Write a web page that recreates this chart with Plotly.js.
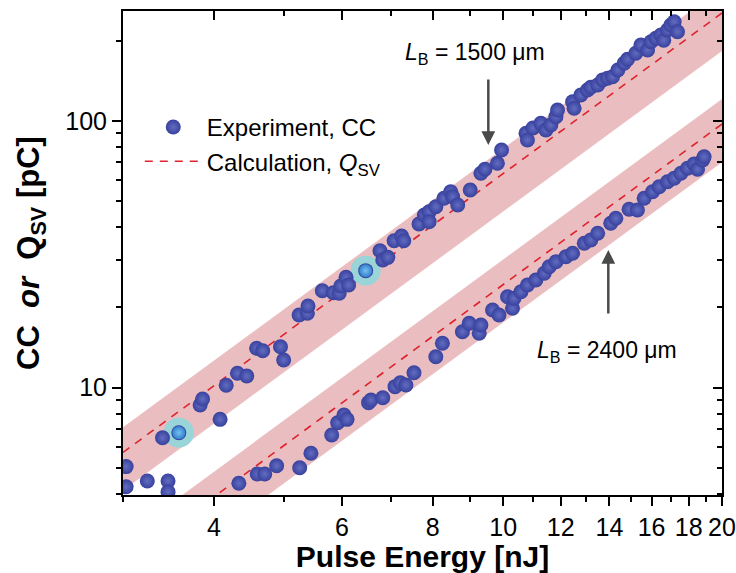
<!DOCTYPE html>
<html>
<head>
<meta charset="utf-8">
<script src="https://cdn.plot.ly/plotly-3.0.1.min.js"></script>
<style>html,body{margin:0;padding:0;background:#fff;}#chart{width:736px;height:573px;}</style>
</head>
<body>
<div id="chart"></div>
<script>
// Experimental points, L_B = 1500 um (upper series)
var upperE = [3.03,3.03,3.24,3.46,3.46,3.40,3.58,3.83,3.86,4.08,4.16,4.31,4.44,4.58,4.67,4.94,4.99,5.24,5.38,5.39,5.64,5.84,5.95,5.98,6.08,6.13,6.47,6.77,6.83,6.94,7.08,7.25,7.30,7.66,7.79,7.91,7.91,8.08,8.29,8.47,8.52,8.66,9.01,9.32,9.44,9.82,9.95,10.75,10.80,10.99,11.27,11.45,11.63,11.82,11.88,12.46,12.52,12.79,13.06,13.20,13.49,13.70,13.92,14.14,14.38,14.67,14.83,15.22,15.47,15.80,15.97,16.22,16.48,16.63,16.83,17.01,17.19,17.37];
var upperQ = [5.06,4.25,4.47,4.47,4.07,6.49,6.78,8.61,9.07,7.61,10.21,11.33,11.06,14.05,13.76,14.24,12.7,18.73,19.01,20.25,23.1,22.71,22.59,24.06,25.94,24.27,27.47,32.64,30.11,30.82,35.58,37.06,35.58,41.1,44.42,45.7,41.93,47.72,51.31,54.32,52.03,48.42,55.13,63.68,65.91,69.4,77.87,89.94,84.87,94.1,98.0,92.5,96.6,103.8,109.9,118.1,111.6,125.2,130.7,133.8,136.5,142.5,144.6,146.6,155.3,164.6,170.3,179.4,192.8,184.6,198.3,204.2,210.1,201,219.4,229,235.7,216.2];
// Experimental points, L_B = 2400 um (lower series)
var lowerE = [4.33,4.59,4.70,4.88,5.25,5.44,5.81,5.92,6.04,6.10,6.53,6.58,6.83,7.10,7.22,7.35,7.54,8.08,8.25,8.79,8.98,9.27,9.32,9.67,9.87,10.14,10.30,10.35,10.58,10.80,11.09,11.39,11.57,11.82,12.20,12.46,12.93,13.20,13.49,14.06,14.29,14.90,15.30,15.63,16.05,16.39,16.83,17.19,17.56,17.93,18.31,18.51,18.81,18.90];
var lowerQ = [4.38,4.75,4.75,5.10,5.01,5.68,6.65,7.39,7.90,7.61,8.79,8.99,9.17,10.09,10.44,10.24,11.38,13.07,14.67,16.22,17.44,16.0,17.18,19.56,18.73,21.94,19.85,21.64,22.91,24.27,25.34,26.85,28.43,29.68,30.99,31.91,34.78,35.8,37.93,41.34,43.17,46.67,46.39,51.31,54.32,56.71,59.2,60.97,63.68,66.48,69.0,65.91,71.43,73.46];
// Highlighted points
var highlightE = [3.58, 6.47];
var highlightQ = [6.78, 27.47];
// Calculation Q_SV (endpoints of straight lines on log-log) and uncertainty bands
var calcE = [3, 20];
var calcUpper = [5.72, 254];
var calcLower = [2.19, 97.4];
var bandUpperHi = [7.1, 315];
var bandUpperLo = [4.12, 183];
var bandLowerHi = [2.72, 121];
var bandLowerLo = [1.58, 70.1];
// Axis ticks
var xMajor = [4,6,8,10,12,14,16,18,20];
var xMinor = [3,5,7,9,11,13,15,17,19];
var yMajor = [10,100];
var yMinor = [4,5,6,7,8,9,20,30,40,50,60,70,80,90,200];

var FONT = 'Liberation Sans, Arial, Helvetica, sans-serif';
var bandColor = 'rgb(234,190,192)';
var dotColor = 'rgb(56,66,158)';
var redColor = 'rgb(222,35,45)';

function bandPoly(lo, hi) {
  return {x: calcE.concat(calcE.slice().reverse()), y: lo.concat(hi.slice().reverse())};
}
var pu = bandPoly(bandUpperLo, bandUpperHi);
var pl = bandPoly(bandLowerLo, bandLowerHi);

var markerStyle = {size: 15, color: dotColor, line: {width: 0},
  gradient: {type: 'radial', color: 'rgb(98,108,192)'}};

var traces = [
  {x: pu.x, y: pu.y, mode: 'lines', fill: 'toself', fillcolor: bandColor, line: {width: 0}, showlegend: false, hoverinfo: 'skip'},
  {x: pl.x, y: pl.y, mode: 'lines', fill: 'toself', fillcolor: bandColor, line: {width: 0}, showlegend: false, hoverinfo: 'skip'},
  {x: calcE, y: calcUpper, mode: 'lines', name: 'Calculation, <i>Q</i><sub>SV</sub>', legendgroup: 'calc', legendrank: 2,
   line: {color: redColor, width: 1.6, dash: '8px,7px'}},
  {x: calcE, y: calcLower, mode: 'lines', showlegend: false, legendgroup: 'calc',
   line: {color: redColor, width: 1.6, dash: '8px,7px'}},
  {x: highlightE, y: highlightQ, mode: 'markers', showlegend: false,
   marker: {size: 30, color: 'rgb(152,212,216)', line: {width: 0}}},
  {x: upperE, y: upperQ, mode: 'markers', name: 'Experiment, CC', legendgroup: 'exp', legendrank: 1, marker: markerStyle},
  {x: lowerE, y: lowerQ, mode: 'markers', showlegend: false, legendgroup: 'exp', marker: markerStyle},
  {x: highlightE, y: highlightQ, mode: 'markers', showlegend: false,
   marker: {size: 13, color: 'rgb(50,130,205)', line: {width: 0}, gradient: {type: 'radial', color: 'rgb(120,190,240)'}}},
  // invisible trace to carry mirrored top/right axes
  {x: calcE, y: calcUpper, xaxis: 'x2', yaxis: 'y2', mode: 'lines', opacity: 0, showlegend: false, hoverinfo: 'skip', line: {width: 0}}
];

var xr = [Math.log10(3), Math.log10(20)];
var yr = [0.5977, 2.4124];

var axBase = {
  type: 'log', showgrid: false, zeroline: false, showline: true, linecolor: '#000', linewidth: 2,
  ticks: 'outside', ticklen: 9, tickwidth: 2, tickcolor: '#000',
  tickfont: {family: FONT, size: 25, color: '#000'}, tickmode: 'array'
};

var layout = {
  width: 736, height: 573,
  margin: {l: 123, r: 14, t: 11, b: 78},
  paper_bgcolor: '#fff', plot_bgcolor: '#fff',
  font: {family: FONT, color: '#000'},
  xaxis: Object.assign({}, axBase, {
    range: xr, tickvals: xMajor, ticktext: xMajor.map(String),
    minor: {tickmode: 'array', tickvals: xMinor, ticks: 'outside', ticklen: 5, tickwidth: 2, tickcolor: '#000'},
    title: {text: '<b>Pulse Energy [nJ]</b>', font: {family: FONT, size: 30, color: '#000'}, standoff: 8}
  }),
  yaxis: Object.assign({}, axBase, {
    range: yr, tickvals: yMajor, ticktext: yMajor.map(String),
    minor: {tickmode: 'array', tickvals: yMinor, ticks: 'outside', ticklen: 5, tickwidth: 2, tickcolor: '#000'},
    title: {text: '<b>CC\u00a0\u00a0<i>or</i>\u00a0\u00a0Q<sub>SV</sub> [pC]</b>', font: {family: FONT, size: 31, color: '#000'}, standoff: 16}
  }),
  xaxis2: Object.assign({}, axBase, {
    overlaying: 'x', side: 'top', anchor: 'y', range: xr, tickvals: xMajor, showticklabels: false, ticks: 'inside',
    minor: {tickmode: 'array', tickvals: xMinor, ticks: 'inside', ticklen: 5, tickwidth: 2, tickcolor: '#000'}
  }),
  yaxis2: Object.assign({}, axBase, {
    overlaying: 'y', side: 'right', anchor: 'x', range: yr, tickvals: yMajor, showticklabels: false, ticks: 'inside',
    minor: {tickmode: 'array', tickvals: yMinor, ticks: 'inside', ticklen: 5, tickwidth: 2, tickcolor: '#000'}
  }),
  showlegend: true,
  legend: {x: 0.028, y: 0.806, xanchor: 'left', yanchor: 'top', bgcolor: 'rgba(0,0,0,0)',
    font: {family: FONT, size: 24, color: '#000'}, itemwidth: 57, tracegroupgap: 0},
  annotations: [
    {xref: 'paper', yref: 'paper', x: 0.5876, y: 0.913, xanchor: 'center', yanchor: 'middle', showarrow: false,
     text: '<i>L</i><sub>B</sub> = 1500 \u03bcm', font: {family: FONT, size: 23, color: '#000'}},
    {xref: 'paper', yref: 'paper', x: 0.8088, y: 0.296, xanchor: 'center', yanchor: 'middle', showarrow: false,
     text: '<i>L</i><sub>B</sub> = 2400 \u03bcm', font: {family: FONT, size: 23, color: '#000'}},
    {xref: 'paper', yref: 'paper', x: 0.6099, y: 0.7231, text: '', showarrow: true, ax: 0, ay: -67,
     arrowhead: 2, arrowsize: 1.1, arrowwidth: 2.5, arrowcolor: '#4a4a4a', standoff: 0},
    {xref: 'paper', yref: 'paper', x: 0.8102, y: 0.5062, text: '', showarrow: true, ax: 0, ay: 65,
     arrowhead: 2, arrowsize: 1.1, arrowwidth: 2.5, arrowcolor: '#4a4a4a', standoff: 0}
  ]
};

Plotly.newPlot('chart', traces, layout, {displayModeBar: false, staticPlot: true});
</script>
</body>
</html>
